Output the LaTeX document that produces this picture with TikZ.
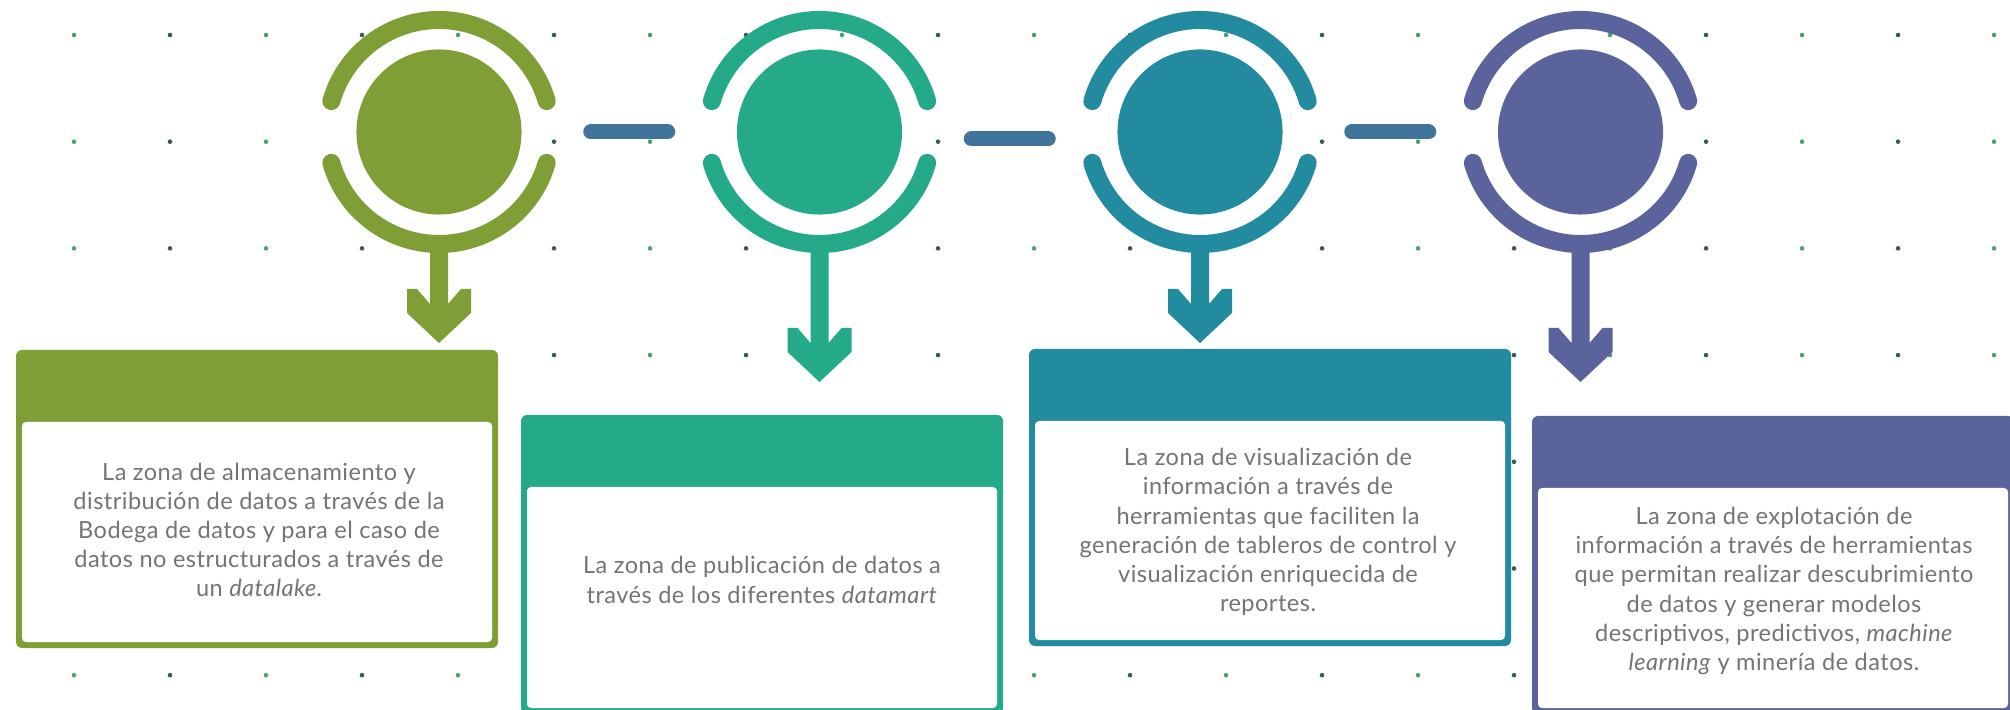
\documentclass[tikz,border=0pt]{standalone}
\usepackage{fontspec}
\setmainfont{Lato}[LetterSpace=2]
\usetikzlibrary{calc}

\definecolor{verde}{HTML}{7F9E35}
\definecolor{menta}{HTML}{24AA88}
\definecolor{petroleo}{HTML}{228BA0}
\definecolor{morado}{HTML}{5B639C}
\definecolor{acero}{HTML}{41749A}
\definecolor{puntoA}{HTML}{4CA06E}
\definecolor{puntoB}{HTML}{3C5A5A}
\definecolor{gristexto}{HTML}{747474}

\tikzset{
    anillo/.style={line width=0.18cm, line cap=round},
    guion/.style={acero, line width=0.15cm, line cap=round},
    texto/.style={align=center, text=gristexto, font=\fontsize{6.7}{8.3}\selectfont, inner sep=0pt},
}

\begin{document}
\begin{tikzpicture}[x=0.01cm, y=-0.01cm]
    \useasboundingbox (0,0) rectangle (2010,710);
    \clip (0,0) rectangle (2010,710);
    % Puntos de fondo
    \foreach \i in {0,2,...,20}
        \foreach \j in {0,...,6}
            \fill[puntoA] (74+96*\i,35+106.7*\j) circle[radius=2.3];
    \foreach \i in {1,3,...,19}
        \foreach \j in {0,...,6}
            \fill[puntoB] (74+96*\i,35+106.7*\j) circle[radius=2.3];
    % Cajas
    \foreach \x/\ya/\yb/\col in {257/350/648/verde, 762/415/714/menta, 1270/349/646/petroleo, 1773/416/714/morado} {
        \fill[\col, rounded corners=0.06cm] (\x-241,\ya) rectangle (\x+241,\yb);
        \fill[white, rounded corners=0.04cm] (\x-235,\ya+72) rectangle (\x+235,\yb-6);
    }
    % Circulos, anillos y flechas
    \foreach \n/\x/\punta/\col in {1/439/211/verde, 2/819.5/250/menta, 3/1200/211/petroleo, 4/1580.5/250/morado} {
        \node[circle, fill=\col, minimum size=1.65cm, inner sep=0pt] (c\n) at (\x,132) {};
        \begin{scope}[shift={(c\n)}]
            \draw[anillo, \col] (-164:112) arc[start angle=-164, end angle=-16, radius=112];
            \draw[anillo, \col] (16:112) arc[start angle=16, end angle=164, radius=112];
            \fill[\col] (-9,105) -- (-9,\punta-39) -- (-22,\punta-54) -- (-32,\punta-54) -- (-32,\punta-30) -- (0,\punta)
                -- (32,\punta-30) -- (32,\punta-54) -- (22,\punta-54) -- (9,\punta-39) -- (9,105) -- cycle;
        \end{scope}
    }
    % Guiones entre circulos
    \draw[guion] ($(c1.east)!0.5!(c2.west)$) ++(-38.5,0) -- ++(77,0);
    \draw[guion] ($(c2.east)!0.5!(c3.west)$) ++(-38.5,7) -- ++(77,0);
    \draw[guion] ($(c3.east)!0.5!(c4.west)$) ++(-38.5,0) -- ++(77,0);
    % Textos
    \node[texto] (t1) at (259,530) {La zona de almacenamiento y\\distribución de datos a través de la\\Bodega de datos y para el caso de\\datos no estructurados a través de\\un \textit{datalake}.};
    \node[texto] (t2) at (762,580) {La zona de publicación de datos a\\través de los diferentes \textit{datamart}};
    \node[texto] (t3) at (1268,532) {La zona de visualización de\\información a través de\\herramientas que faciliten la\\generación de tableros de control y\\visualización enriquecida de\\reportes.};
    \node[texto] (t4) at (1774,591) {La zona de explotación de\\información a través de herramientas\\que permitan realizar descubrimiento\\de datos y generar modelos\\descriptivos, predictivos, \textit{machine}\\\textit{learning} y minería de datos.};
\end{tikzpicture}
\end{document}
